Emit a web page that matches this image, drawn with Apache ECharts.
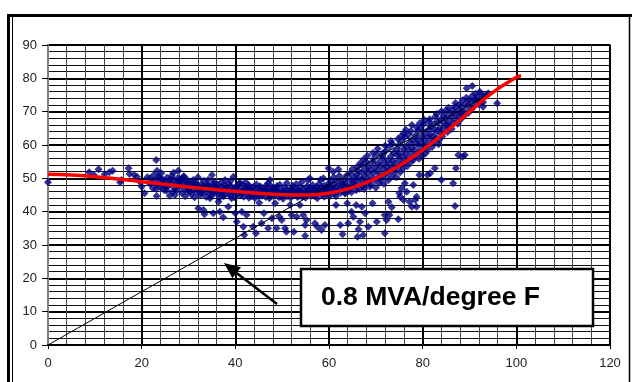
<!DOCTYPE html>
<html>
<head>
<meta charset="utf-8">
<script src="https://cdn.jsdelivr.net/npm/echarts@6/dist/echarts.min.js"></script>
<style>
  html, body { margin: 0; padding: 0; background: #fff; }
  #chart { width: 632px; height: 382px; }
</style>
</head>
<body>
<div id="chart"></div>
<script>
// scattered load readings (temperature °F, MVA)
const edgePoints = [
  [0, 48.8], [8.8, 51.8], [9.8, 51], [10.8, 52.7], [12.1, 51.2], [13.1, 51.8], [13.8, 52.3],
  [15.4, 48.8], [15.7, 49.5], [17.2, 53], [17.4, 51.3], [18.4, 51], [19, 50.5], [19.6, 49],
  [20, 47.5], [20.6, 45.5], [21.2, 50.3], [21.8, 48.3], [23.1, 55.5], [23.2, 44.7], [23.3, 52.3],
  [23.6, 50.5], [24.3, 49], [25, 47.5], [25.3, 46.3], [26.2, 49.7], [26.8, 51.7], [27.1, 45],
  [27.8, 52.3], [28.2, 49.7], [29, 50.5], [29.6, 48.7], [30, 47], [30.3, 46], [31, 49.5],
  [31.7, 48], [32.5, 46], [33.9, 47.5], [34.6, 44], [35, 51], [36, 46], [37.8, 49.5],
  [39.6, 50.5], [40.9, 48.5], [42.8, 47.7], [43.3, 45], [46.7, 46], [47.4, 49.5],
  [55.9, 50], [56.7, 45.5], [58.8, 50], [59.9, 53], [60, 47.5], [60.9, 52], [62, 52.7],
  [63.4, 45.5], [79.3, 51], [81, 51], [81.6, 51.5], [82.6, 53], [84, 49.5], [86.5, 48.5],
  [87.1, 53], [87.6, 57], [88.5, 56.5], [89, 57], [95.9, 72.5], [89.4, 77], [90.6, 77.7],
  [91.5, 73.5], [92.2, 76], [92.9, 71.5], [93.7, 75]
];
const lowPoints = [
  [32.1, 41], [33.2, 40.5], [33.4, 39.2], [35.3, 39.5], [36.4, 43], [36.7, 40], [37.4, 38.3],
  [38.5, 41.5], [39.2, 44], [40, 39.5], [40.3, 37], [41.4, 40], [41.7, 35.5], [41.9, 33],
  [42.4, 39], [43.8, 35.5], [44.4, 33.5], [45.1, 42.7], [45.6, 36.5], [46.1, 39.5], [47, 35],
  [47.8, 38], [48.5, 42.5], [48.8, 35], [49.4, 38.5], [49.9, 37.5], [50.6, 35], [50.9, 34],
  [51.7, 42], [52, 39], [52.5, 34], [53.1, 38.5], [53.8, 42], [54.5, 39], [54.9, 36],
  [54.9, 32.8], [55.2, 37.5], [57, 36.5], [57.5, 35.5], [58.4, 34.5], [59.1, 36], [61.5, 42],
  [62.4, 36], [62.9, 33.2], [63.9, 42.5], [64.1, 36.5], [64.8, 40], [65.2, 38.5], [65.8, 42],
  [66.3, 34.7], [66.1, 32.5], [66.6, 37], [67, 41.5], [67.3, 33], [67.7, 39.5], [68.4, 35.5],
  [69.3, 42.5], [70.2, 37], [71.9, 33.5], [71.9, 39], [72.3, 37.5], [72.7, 43], [72.9, 39],
  [73.4, 41.3], [74.8, 37.7], [75, 45.5], [75.2, 44.5], [75.5, 47], [75.9, 43.5], [76.2, 48.5],
  [76.6, 46], [77.2, 43], [77.7, 41.5], [78, 48], [78.4, 43.5], [78.7, 44.5], [78.7, 41.5],
  [86.9, 41.7]
];
const bandPoints = [
  [22.1, 48.5], [21.8, 50], [22.4, 47], [22.9, 49.2], [22.6, 51], [23.1, 46.8], [23.4, 48], [23.8, 50.3],
  [24.0, 47.3], [24.5, 49.6], [24.2, 51.5], [25.1, 48.8], [24.8, 46.5], [25.4, 50.2], [25.7, 47.6], [25.9, 49.3],
  [26.2, 48.2], [26.6, 46], [26.4, 50.8], [26.0, 44.8], [27.1, 47], [26.8, 49.5], [27.3, 48.4],
  [27.5, 46.4], [27.9, 48.9], [27.7, 50.1], [28.2, 47.8], [28.6, 45.6], [28.4, 49.2],
  [29.1, 46.9], [28.8, 48.6], [29.3, 44.6], [29.0, 50.6], [29.6, 47.5], [29.9, 46.1], [29.8, 49.4],
  [30.3, 48.1], [30.6, 45.2], [30.2, 47], [31.1, 46.6], [30.8, 49], [31.3, 44.3], [31.0, 47.9],
  [31.6, 47.2], [31.9, 45.8], [31.5, 48.7], [32.0, 50.3], [32.3, 46.3], [32.7, 48.2], [32.5, 44.9],
  [33.1, 47.6], [32.9, 45.5], [33.3, 49.3], [33.0, 46.8], [33.6, 46], [33.9, 48], [33.8, 44.4], [34.1, 47.2],
  [34.3, 47.9], [34.6, 45.3], [34.5, 46.6], [34.2, 49.6], [35.1, 46.2], [34.9, 44.7], [35.3, 48.4], [35.2, 47.3],
  [35.6, 45.6], [35.9, 47.7], [35.8, 46.5], [35.5, 49], [36.3, 46.9], [36.6, 44.2], [36.2, 48.1], [36.5, 45.4],
  [37.1, 47.4], [36.9, 45.9], [37.3, 46.4], [37.0, 48.8], [37.6, 45.1], [37.9, 46.7], [37.8, 47.9], [37.5, 44.6],
  [38.3, 46.2], [38.6, 48.3], [38.5, 45.5], [38.2, 47], [39.1, 47.6], [38.9, 44.8], [39.3, 46.1], [39.0, 49.2],
  [39.6, 45.9], [39.9, 47.2], [39.8, 44.3], [39.5, 46.6], [40.3, 46.5], [40.6, 48], [40.5, 45.2], [40.2, 47.4],
  [41.1, 44.9], [40.9, 46.9], [41.3, 45.8], [41.0, 48.6], [41.6, 46.3], [41.9, 47.7], [41.8, 44.5], [41.5, 45.6],
  [42.3, 47.1], [42.6, 45.3], [42.5, 46.6], [42.2, 48.9], [43.1, 45.7], [42.9, 44.2], [43.3, 46.8], [43.0, 47.8],
  [43.6, 46.2], [43.9, 45], [43.8, 47.4], [43.5, 44.6], [44.3, 45.4], [44.6, 46.9], [44.5, 48.2], [44.2, 44.1],
  [45.1, 46.4], [44.9, 45.1], [45.3, 47.6], [45.0, 44.7], [45.6, 44.8], [45.9, 46], [45.8, 45.5], [45.5, 47.1],
  [46.3, 45.9], [46.6, 47.9], [46.5, 44.4], [46.2, 46.6], [47.1, 45.2], [46.9, 46.8], [47.3, 44], [47.0, 48.5],
  [47.6, 46.3], [47.9, 45.6], [47.8, 47.4], [47.5, 44.7], [48.3, 44.9], [48.6, 46.1], [48.5, 45.4], [48.2, 47.2],
  [49.1, 45.8], [48.9, 47.7], [49.3, 44.3], [49.0, 46.5], [49.6, 45], [49.9, 46.3], [49.8, 44.6], [49.5, 48.1],
  [50.3, 46], [50.6, 45.3], [50.5, 47.3], [50.2, 43.9], [51.1, 44.7], [50.9, 46.6], [51.3, 45.7], [51.0, 48.6],
  [51.6, 45.4], [51.9, 47], [51.8, 44.2], [51.5, 46.1], [52.3, 46.4], [52.6, 44.9], [52.5, 45.8], [52.2, 47.8],
  [53.1, 45.1], [52.9, 46.9], [53.3, 44.4], [53.0, 48.3], [53.6, 45.9], [53.9, 47.4], [53.8, 44.8], [53.5, 46.3],
  [54.3, 44.5], [54.6, 46.7], [54.5, 45.5], [54.2, 48.9], [55.1, 46.1], [54.9, 45], [55.3, 47.6], [55.0, 44.2],
  [55.6, 45.6], [55.9, 47.1], [55.8, 46.4], [55.5, 49.4], [56.3, 44.8], [56.6, 46.2], [56.5, 48], [56.2, 45.3],
  [57.1, 46.8], [56.9, 45.2], [57.3, 47.5], [57.0, 44.6], [57.6, 45.7], [57.9, 48.4], [57.8, 46.5], [57.5, 44],
  [58.3, 46.3], [58.6, 47.2], [58.5, 45.1], [58.2, 49.6], [59.1, 45.5], [58.9, 47.8], [59.3, 46.9], [59.0, 44.5],
  [59.6, 46.6], [59.9, 48.5], [59.8, 45.3], [59.5, 47.3], [60.3, 45.9], [60.6, 47], [60.5, 49.2], [60.2, 44.8],
  [61.1, 46.8], [60.9, 48.1], [61.3, 45.4], [61.0, 50.3], [61.6, 47.5], [61.9, 46.1], [61.8, 49], [61.5, 44.6],
  [62.3, 46.9], [62.6, 48.6], [62.5, 45.7], [62.2, 50.8], [63.1, 47.7], [62.9, 46.4], [63.3, 49.6], [63.0, 48.2],
  [63.6, 48.4], [63.9, 46.8], [63.8, 50.9], [63.5, 45.5], [64.3, 47.3], [64.6, 49.5], [64.5, 51.6], [64.2, 46.2],
  [65.1, 48.8], [64.9, 47.6], [65.3, 50.4], [65.0, 52.8], [64.8, 45.8]
];
const risePoints = [
  [65.6, 49.3], [65.9, 51.2], [65.5, 47.9], [66.0, 53.5], [65.8, 46.4],
  [66.3, 50.1], [66.6, 48.4], [66.2, 52.3], [66.7, 54.6], [66.5, 46.9],
  [67.1, 49.7], [66.9, 51.8], [67.3, 47.6], [67.0, 53.9], [67.4, 55.7],
  [67.6, 50.6], [67.9, 48.9], [67.8, 52.7], [67.5, 46.8], [68.0, 55],
  [68.3, 51.4], [68.6, 49.3], [68.5, 53.6], [68.2, 56.8], [68.7, 47.5],
  [69.1, 50.2], [68.9, 52.5], [69.3, 54.9], [69.0, 48.1], [69.4, 57.6],
  [69.6, 51.6], [69.9, 53.3], [69.8, 49.4], [69.5, 55.8], [70.0, 47.2],
  [70.3, 52.3], [70.6, 50.5], [70.5, 54.6], [70.2, 57.2], [70.7, 48.6], [70.4, 58.9],
  [71.1, 51.1], [70.9, 53.8], [71.3, 55.9], [71.0, 49.7], [71.4, 56.7],
  [71.6, 52.8], [71.9, 54.7], [71.8, 50.8], [71.5, 57.6], [72.0, 59.8], [71.7, 48.4],
  [72.3, 53.5], [72.6, 55.6], [72.5, 51.7], [72.2, 58.3], [72.7, 49.5],
  [73.1, 54.2], [72.9, 52.4], [73.3, 56.8], [73.0, 59.6], [73.4, 50.6], [73.2, 61.2],
  [73.6, 55.3], [73.9, 53.1], [73.8, 57.7], [73.5, 60.4], [74.0, 51.9],
  [74.3, 54.6], [74.6, 56.9], [74.5, 58.8], [74.2, 52.7], [74.7, 61.8], [74.4, 50.3],
  [75.1, 55.8], [74.9, 57.5], [75.3, 53.9], [75.0, 60.1], [75.4, 62.7], [75.2, 51.8],
  [75.6, 56.5], [75.9, 58.7], [75.8, 54.6], [75.5, 61.3], [76.0, 63.5], [75.7, 52.9],
  [76.3, 57.4], [76.6, 55.3], [76.5, 59.6], [76.2, 62.4], [76.7, 53.6], [76.4, 64.6],
  [77.1, 58.3], [76.9, 56.2], [77.3, 60.8], [77.0, 63.1], [77.4, 54.8],
  [77.6, 59.2], [77.9, 57.1], [77.8, 61.6], [77.5, 64.2], [78.0, 55.5], [77.7, 66],
  [78.3, 58.6], [78.6, 60.7], [78.5, 62.9], [78.2, 56.4], [78.7, 65.3],
  [79.1, 59.9], [78.9, 61.8], [79.3, 57.7], [79.0, 64.4], [79.4, 66.6], [79.2, 55.9],
  [79.6, 60.6], [79.9, 62.7], [79.8, 58.5], [79.5, 65.1], [80.0, 56.8],
  [80.3, 61.5], [80.6, 59.4], [80.5, 63.8], [80.2, 66.2], [80.7, 57.6], [80.4, 67.5],
  [81.1, 62.4], [80.9, 60.3], [81.3, 64.7], [81.0, 58.6], [81.4, 66.9],
  [81.6, 63.1], [81.9, 61.2], [81.8, 65.5], [81.5, 67.7], [82.0, 59.4],
  [82.3, 62.8], [82.6, 64.6], [82.5, 66.4], [82.2, 60.7], [82.7, 68.5],
  [83.1, 64.2], [82.9, 62.1], [83.3, 66.9], [83.0, 69.3], [83.4, 60.2],
  [83.6, 65.1], [83.9, 63.4], [83.8, 67.6], [83.5, 61.5], [84.0, 70.1],
  [84.3, 64.7], [84.6, 66.5], [84.5, 68.8], [84.2, 62.6],
  [85.1, 66.1], [84.9, 68.2], [85.3, 63.9], [85.0, 70.4], [85.4, 65.3],
  [85.6, 67.3], [85.9, 65.6], [85.8, 69.4], [85.5, 71.2],
  [86.3, 68.4], [86.6, 66.7], [86.5, 70.6], [86.2, 64.8],
  [87.1, 69.1], [86.9, 71.4], [87.3, 67.2], [87.0, 72.6],
  [87.6, 70.2], [87.9, 68.6], [87.8, 72.1], [87.5, 66.4],
  [88.3, 71.3], [88.6, 69.5], [88.5, 73.4], [88.2, 67.8],
  [89.1, 72.4], [88.9, 70.1], [89.3, 74.2], [89.0, 68.9],
  [89.6, 71.7], [89.9, 73.6], [89.8, 69.7],
  [90.3, 72.9], [90.6, 74.8], [90.5, 70.8],
  [91.1, 73.5], [90.9, 71.6], [91.3, 75.4],
  [91.6, 74.3], [91.9, 72.2], [92.3, 73.1], [92.6, 75.2],
  [93.1, 74.6], [92.9, 72.8], [94.0, 75.5]
];

// fitted trend curve
const trendX = [0, 5, 10, 15, 20, 25, 30, 35, 40, 45, 50, 55, 60, 65, 70, 75, 80, 85, 90, 95, 100, 101];
const trendY = [51.2, 51, 50.5, 49.8, 49, 48.2, 47.4, 46.7, 46.1, 45.5, 45.1, 45, 45.6, 47.2, 50, 53.8, 58.5, 64, 70, 75.8, 80.3, 80.8];

// reference line, 0.8 MVA per degree
const slopeLine = [[0, 0], [96, 76.8]];
const slopeLabel = "0.8 MVA/degree F";

const xTicks = { min: 0, max: 120, step: 20 };
const yTicks = { min: 0, max: 90, step: 10 };

const font = "'Liberation Sans', Arial, sans-serif";
const chart = echarts.init(document.getElementById("chart"));

chart.setOption({
  animation: false,
  backgroundColor: "#fff",
  grid: {
    left: 48, right: 22, top: 45, bottom: 37,
    show: true, borderColor: "#808080", borderWidth: 2
  },
  xAxis: {
    type: "value",
    min: xTicks.min, max: xTicks.max, interval: xTicks.step,
    axisLine: { show: true, onZero: false, lineStyle: { color: "#000", width: 2 } },
    axisTick: { show: true, length: 4, lineStyle: { color: "#000" } },
    axisLabel: { margin: 12, color: "#222", fontSize: 13, fontFamily: font },
    splitLine: { show: true, lineStyle: { color: "#000", width: 2 } },
    minorTick: { show: false, splitNumber: 5 },
    minorSplitLine: { show: true, lineStyle: { color: "#444", width: 1 } }
  },
  yAxis: {
    type: "value",
    min: yTicks.min, max: yTicks.max, interval: yTicks.step,
    axisLine: { show: true, lineStyle: { color: "#808080", width: 2 } },
    axisTick: { show: true, length: 6, lineStyle: { color: "#000" } },
    axisLabel: { margin: 11, color: "#222", fontSize: 13, fontFamily: font },
    splitLine: { show: true, lineStyle: { color: "#000", width: 2 } },
    minorTick: { show: false, splitNumber: 5 },
    minorSplitLine: { show: true, lineStyle: { color: "#111", width: 1 } }
  },
  series: [
    {
      name: "Load",
      type: "scatter",
      symbol: "diamond",
      symbolSize: 8,
      itemStyle: { color: "#000080" },
      data: [...edgePoints, ...lowPoints, ...bandPoints, ...risePoints],
      z: 3
    },
    {
      name: "Slope",
      type: "line",
      data: slopeLine,
      showSymbol: false,
      lineStyle: { color: "#000", width: 1 },
      z: 4
    },
    {
      name: "Trend",
      type: "line",
      smooth: true,
      showSymbol: false,
      data: trendX.map((x, i) => [x, trendY[i]]),
      lineStyle: { color: "#ff0000", width: 3.5 },
      z: 5
    }
  ],
  graphic: [
    // outer frame
    { type: "line", z: 100, shape: { x1: 7, y1: 15.5, x2: 632, y2: 15.5 }, style: { stroke: "#000", lineWidth: 3 } },
    { type: "line", z: 100, shape: { x1: 8.5, y1: 14, x2: 8.5, y2: 382 }, style: { stroke: "#000", lineWidth: 3 } },
    { type: "line", z: 100, shape: { x1: 12.5, y1: 17, x2: 12.5, y2: 382 }, style: { stroke: "#000", lineWidth: 1 } },
    { type: "line", z: 100, shape: { x1: 629.5, y1: 17, x2: 629.5, y2: 382 }, style: { stroke: "#000", lineWidth: 1.5 } },
    // arrow
    { type: "line", z: 100, shape: { x1: 277, y1: 304, x2: 234, y2: 271 }, style: { stroke: "#000", lineWidth: 2.5 } },
    { type: "polygon", z: 100, shape: { points: [[224, 263], [241, 267.3], [232.4, 278.3]] }, style: { fill: "#000" } },
    // label box
    {
      type: "rect", z: 100,
      shape: { x: 301, y: 269, width: 292, height: 57 },
      style: { fill: "#fff", stroke: "#000", lineWidth: 2.5 }
    },
    {
      type: "text", z: 101,
      x: 321, y: 298,
      style: {
        text: slopeLabel, fill: "#000",
        font: "bold 26.5px " + font,
        textVerticalAlign: "middle", verticalAlign: "middle"
      }
    }
  ]
});
</script>
</body>
</html>
